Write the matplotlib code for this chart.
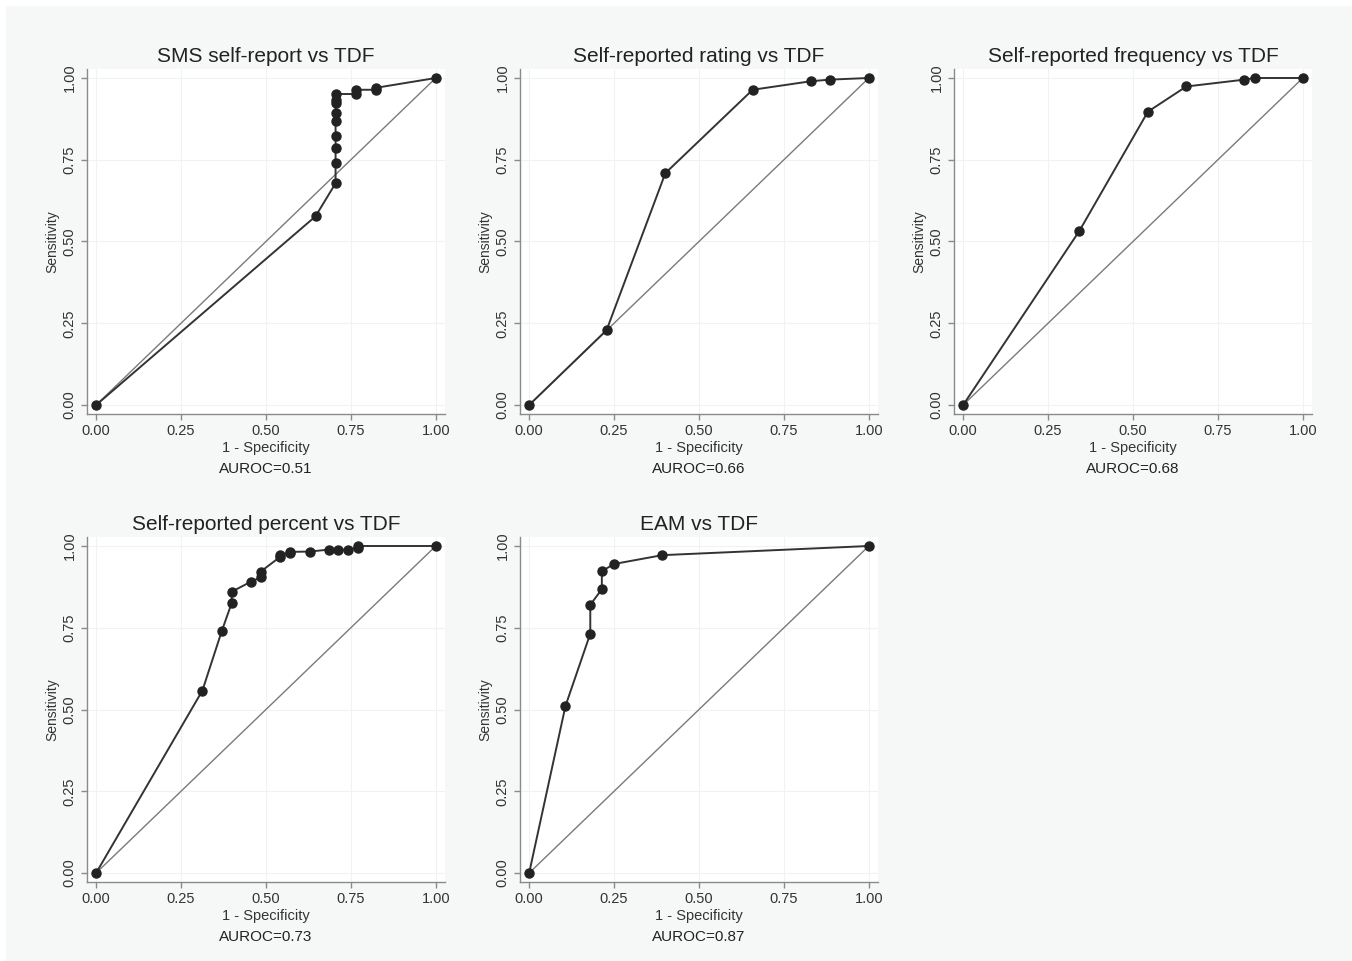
import matplotlib.pyplot as plt
from matplotlib.patches import Rectangle

plt.rcParams['font.family'] = ['Liberation Sans', 'DejaVu Sans']

# ROC points (1 - specificity, sensitivity)
titles = ['SMS self-report vs TDF', 'Self-reported rating vs TDF',
          'Self-reported frequency vs TDF', 'Self-reported percent vs TDF',
          'EAM vs TDF']
auroc = [0.51, 0.66, 0.68, 0.73, 0.87]

sms_x = [0.0, 0.646, 0.705, 0.705, 0.705, 0.705, 0.705, 0.705, 0.705, 0.705,
         0.705, 0.765, 0.765, 0.824, 0.824, 1.0]
sms_y = [0.0, 0.577, 0.678, 0.740, 0.785, 0.823, 0.867, 0.894, 0.924, 0.933,
         0.951, 0.951, 0.964, 0.964, 0.970, 1.0]

rating_x = [0.0, 0.228, 0.401, 0.658, 0.829, 0.885, 1.0]
rating_y = [0.0, 0.229, 0.709, 0.964, 0.990, 0.995, 1.0]

freq_x = [0.0, 0.342, 0.544, 0.657, 0.828, 0.858, 1.0]
freq_y = [0.0, 0.532, 0.897, 0.974, 0.995, 1.0, 1.0]

pct_x = [0.0, 0.313, 0.370, 0.399, 0.399, 0.456, 0.485, 0.485, 0.542, 0.542,
         0.571, 0.571, 0.629, 0.685, 0.713, 0.742, 0.772, 0.772, 1.0]
pct_y = [0.0, 0.558, 0.740, 0.825, 0.860, 0.891, 0.904, 0.922, 0.967, 0.974,
         0.978, 0.982, 0.983, 0.989, 0.989, 0.989, 0.995, 1.0, 1.0]

eam_x = [0.0, 0.107, 0.180, 0.180, 0.214, 0.214, 0.250, 0.392, 1.0]
eam_y = [0.0, 0.511, 0.732, 0.820, 0.868, 0.923, 0.945, 0.972, 1.0]

curves = [(sms_x, sms_y), (rating_x, rating_y), (freq_x, freq_y),
          (pct_x, pct_y), (eam_x, eam_y)]
ticks = [0.0, 0.25, 0.5, 0.75, 1.0]
tick_labels = ['0.00', '0.25', '0.50', '0.75', '1.00']

fig = plt.figure(figsize=(13.52, 9.61), dpi=100, facecolor='white')
# light grey panel behind everything, small white strip top/left
fig.patches.append(Rectangle((6 / 1352, 0), 1, 1 - 6 / 961, transform=fig.transFigure,
                             facecolor='#f6f8f8', edgecolor='none', zorder=-10))

lefts = [0.0643, 0.3846, 0.7056, 0.0643, 0.3846]
bottoms = [0.5692, 0.5692, 0.5692, 0.0822, 0.0822]
w, h = 0.2648, 0.359

for i in range(5):
    ax = fig.add_axes([lefts[i], bottoms[i], w, h])
    ax.set_facecolor('white')
    x, y = curves[i]
    ax.plot([0, 1], [0, 1], color='#7a7a7a', lw=1.0, zorder=2)
    ax.plot(x, y, color='#333333', lw=1.4, marker='o', ms=6.5,
            mfc='#222222', mec='#222222', zorder=3)
    ax.set_xlim(-0.027, 1.027)
    ax.set_ylim(-0.0275, 1.0275)
    ax.set_xticks(ticks)
    ax.set_xticklabels(tick_labels)
    ax.set_yticks(ticks)
    ax.set_yticklabels(tick_labels, rotation=90, va='center')
    ax.grid(True, color='#f1f3f3', lw=0.8)
    ax.set_axisbelow(True)
    for s in ['top', 'right']:
        ax.spines[s].set_visible(False)
    for s in ['left', 'bottom']:
        ax.spines[s].set_color('#8a8a8a')
        ax.spines[s].set_linewidth(1.0)
    ax.tick_params(colors='#8a8a8a', labelcolor='#333333', labelsize=10.5,
                   length=4, width=1.0)
    ax.set_title(titles[i], fontsize=15, color='#222222', pad=5)
    ax.set_xlabel('1 - Specificity', fontsize=10.5, color='#333333', labelpad=2)
    ax.set_ylabel('Sensitivity', fontsize=10, color='#333333', labelpad=2)
    ax.text(0.5, -0.16, 'AUROC=%.2f' % auroc[i], transform=ax.transAxes,
            ha='center', va='center', fontsize=11, color='#222222')

fig.savefig('out.png', dpi=100, facecolor=fig.get_facecolor())
